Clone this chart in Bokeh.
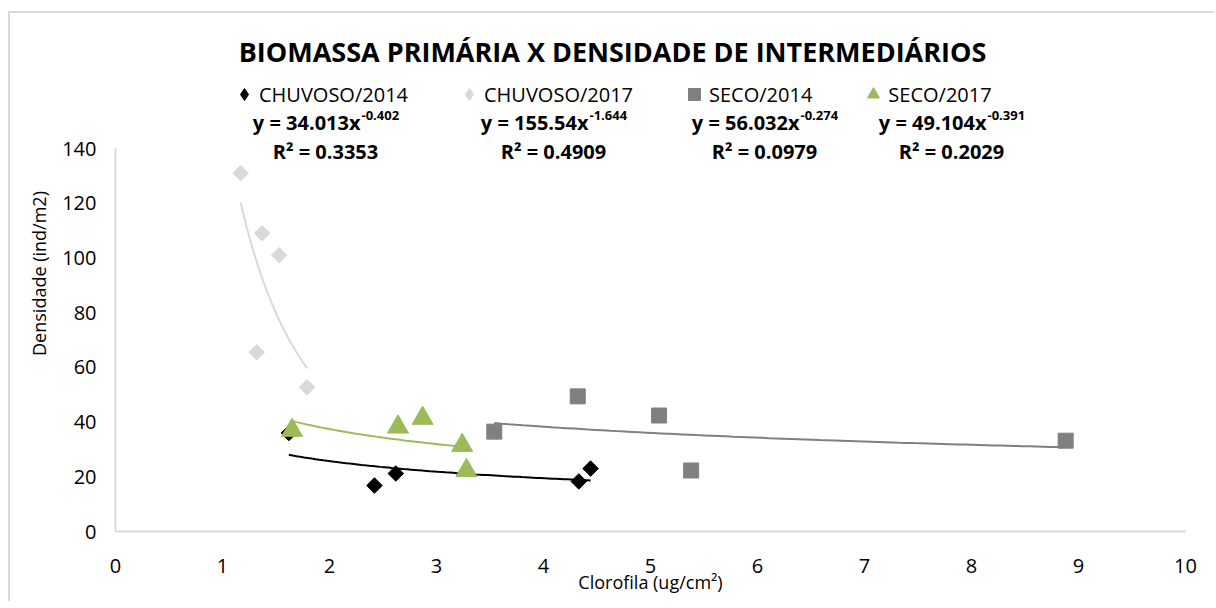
import numpy as np
from bokeh.plotting import figure
from bokeh.models import Range1d, Label, Legend, LegendItem, FixedTicker
from bokeh.embed import file_html
from bokeh.resources import INLINE

# ---- data ----
chuv14_x = [1.62, 2.42, 2.62, 4.33, 4.44]
chuv14_y = [36.0, 16.8, 21.2, 18.3, 23.0]
chuv17_x = [1.17, 1.37, 1.53, 1.32, 1.79]
chuv17_y = [131.0, 109.0, 101.0, 65.5, 52.7]
seco14_x = [3.54, 4.32, 5.08, 5.38, 8.88]
seco14_y = [36.5, 49.4, 42.4, 22.3, 33.2]
seco17_x = [1.65, 2.64, 2.87, 3.24, 3.28]
seco17_y = [37.0, 38.2, 41.4, 31.5, 22.3]

series_names = ["CHUVOSO/2014", "CHUVOSO/2017", "SECO/2014", "SECO/2017"]
fit_a = [34.013, 155.54, 56.032, 49.104]
fit_b = [-0.402, -1.644, -0.274, -0.391]
fit_coef_txt = ["34.013", "155.54", "56.032", "49.104"]
fit_exp_txt = ["-0.402", "-1.644", "-0.274", "-0.391"]
r2_txt = ["0.3353", "0.4909", "0.0979", "0.2029"]

x_ticks = list(range(0, 11))
y_ticks = list(range(0, 141, 20))

colors = ["#000000", "#d9d9d9", "#808080", "#9bbb59"]
FONT = "Open Sans"

# canvas starts at page (10, 13); frame spans page x 115..1185, y 15..531
W, H = 1206, 590
Y_TOP = 140.0 * 516.0 / 383.0
p = figure(width=W, height=H, output_backend="svg", toolbar_location=None,
           x_range=Range1d(0, 10), y_range=Range1d(0, Y_TOP),
           min_border_left=105, min_border_right=31, min_border_top=2, min_border_bottom=72)
p.styles = {"margin-left": "8px", "margin-top": "11px",
            "border-left": "2px solid #d9d9d9", "border-top": "2px solid #d9d9d9"}
p.outline_line_color = None
p.border_fill_color = "white"
p.grid.visible = False

for ax in (p.xaxis[0], p.yaxis[0]):
    ax.axis_line_color = "#d9d9d9"
    ax.axis_line_width = 2
    ax.major_tick_line_color = None
    ax.minor_tick_line_color = None
    ax.major_label_text_font = FONT
    ax.major_label_text_font_size = "20px"
    ax.major_label_text_color = "#000000"
    ax.axis_label_text_font = FONT
    ax.axis_label_text_font_size = "18px"
    ax.axis_label_text_font_style = "normal"
    ax.axis_label_text_color = "#000000"

p.xaxis.ticker = FixedTicker(ticks=x_ticks)
p.yaxis.ticker = FixedTicker(ticks=y_ticks)
p.xaxis.bounds = (0, 10)
p.yaxis.bounds = (0, 140)
p.xaxis.axis_label = "Clorofila (ug/cm²)"
p.yaxis.axis_label = "Densidade (ind/m2)"
p.xaxis.major_label_standoff = 21
p.xaxis.axis_label_standoff = -6
p.yaxis.major_label_standoff = 13
p.yaxis.axis_label_standoff = 8

# trend lines (from displayed power-law fits, over each series' x range)
all_x = [chuv14_x, chuv17_x, seco14_x, seco17_x]
for xs, a, b, c in zip(all_x, fit_a, fit_b, colors):
    xx = np.linspace(min(xs), max(xs), 80)
    p.line(xx, a * xx ** b, line_color=c, line_width=2)

p.scatter(chuv14_x, chuv14_y, marker="square", angle=np.pi / 4, size=11,
          fill_color=colors[0], line_color=colors[0])
p.scatter(chuv17_x, chuv17_y, marker="square", angle=np.pi / 4, size=11,
          fill_color=colors[1], line_color=colors[1])
r3 = p.scatter(seco14_x, seco14_y, marker="square", size=15,
               fill_color=colors[2], line_color=colors[2])
r4 = p.scatter(seco17_x, seco17_y, marker="triangle", size=21,
               fill_color=colors[3], line_color=colors[3])

# legend-only proxies (not drawn: NaN positions) so the legend shows diamond symbols
l1 = p.scatter(x=[np.nan], y=[np.nan], marker="diamond", size=20,
               fill_color=colors[0], line_color=colors[0])
l2 = p.scatter(x=[np.nan], y=[np.nan], marker="diamond", size=20,
               fill_color=colors[1], line_color=colors[1])

legend = Legend(items=[LegendItem(label=n, renderers=[r]) for n, r in zip(series_names, [l1, l2, r3, r4])],
                orientation="horizontal", location=(114, 422), padding=0, margin=0,
                spacing=46, glyph_width=30, glyph_height=30, label_standoff=-4,
                label_text_font=FONT, label_text_font_size="20px", label_text_color="#000000",
                border_line_color=None, background_fill_alpha=0)
p.add_layout(legend)

# page pixel -> data helpers for annotation placement
def dx(px):
    return (px - 115) / 107.0

def dy(py):
    return (531 - py) * 140.0 / 383.0

p.add_layout(Label(x=dx(612), y=dy(51), text="BIOMASSA PRIMÁRIA X DENSIDADE DE INTERMEDIÁRIOS",
                   text_align="center", text_baseline="middle", text_font=FONT,
                   text_font_size="27px", text_font_style="bold", text_color="#000000"))

eq_centers = [325, 553, 764, 951]
for cx, coef, ex, r2 in zip(eq_centers, fit_coef_txt, fit_exp_txt, r2_txt):
    anchor = cx + 35
    p.add_layout(Label(x=dx(anchor), y=dy(122), text=f"y = {coef}x", text_align="right",
                       text_baseline="middle", text_font=FONT, text_font_size="20px",
                       text_font_style="bold", text_color="#000000"))
    p.add_layout(Label(x=dx(anchor + 1), y=dy(115), text=ex, text_align="left",
                       text_baseline="middle", text_font=FONT, text_font_size="13px",
                       text_font_style="bold", text_color="#000000"))
    p.add_layout(Label(x=dx(cx), y=dy(151), text=f"R² = {r2}", text_align="center",
                       text_baseline="middle", text_font=FONT, text_font_size="20px",
                       text_font_style="bold", text_color="#000000"))

open("out.html", "w").write(file_html(p, INLINE))
